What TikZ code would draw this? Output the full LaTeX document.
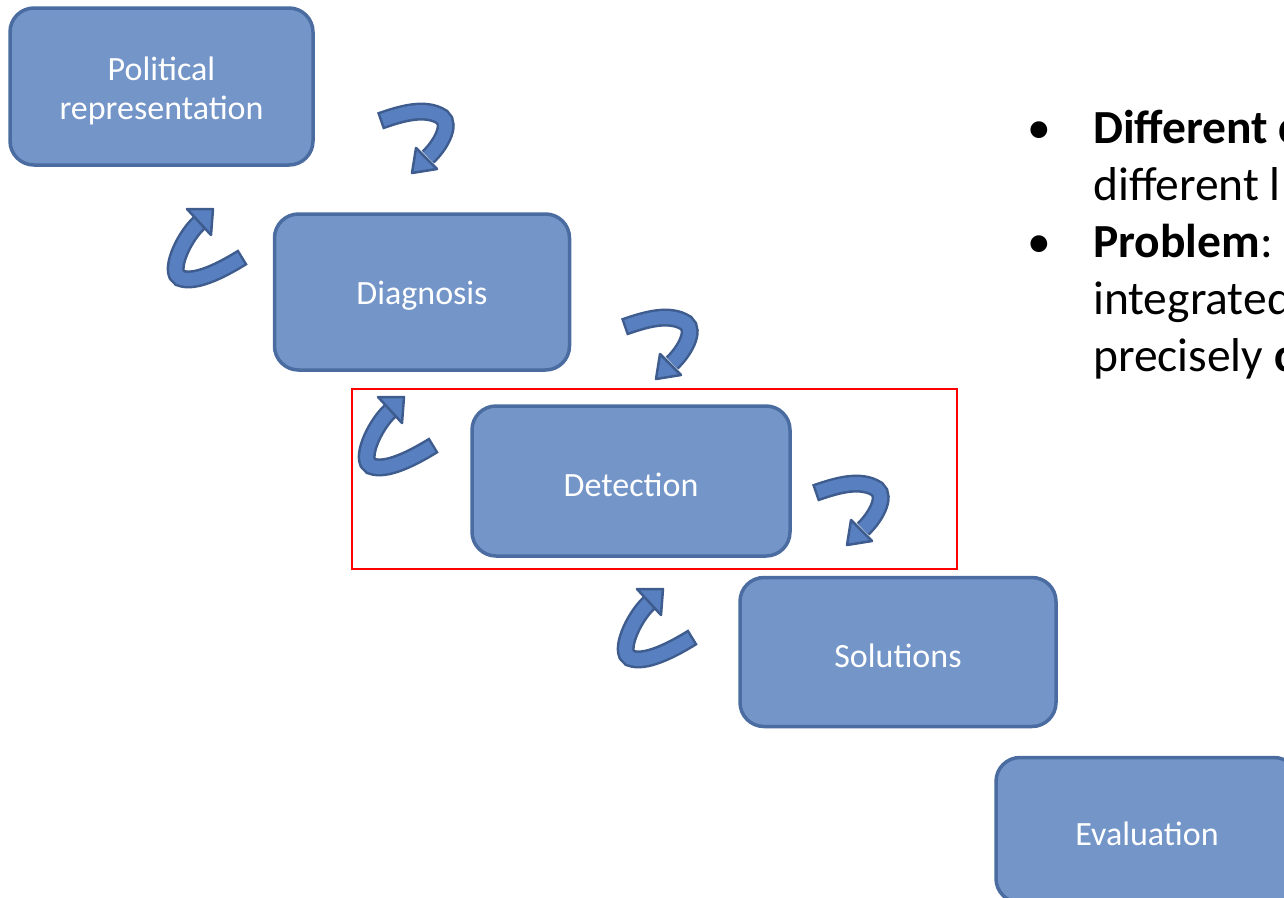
\documentclass[tikz,border=0pt]{standalone}
\usepackage{fontspec}
\setmainfont{Carlito}
\usetikzlibrary{positioning}
\definecolor{boxfill}{RGB}{115,149,200}
\definecolor{boxline}{RGB}{74,108,160}
\definecolor{arrfill}{RGB}{88,128,192}
\definecolor{arrline}{RGB}{62,92,142}
\begin{document}
\begin{tikzpicture}[x=1pt,y=-1pt,
  stage/.style={draw=boxline, fill=boxfill, line width=3.5pt, rounded corners=24pt, inner sep=0pt},
  lbl/.style={text=white, align=center, font=\fontsize{34}{39}\selectfont, inner sep=0pt, yshift=-4pt},
  shaftout/.style={line width=18pt, color=arrline},
  shaftin/.style={line width=13pt, color=arrfill, shorten <=2.5pt},
  arrhead/.style={fill=arrfill, draw=arrline, line width=2.5pt, line join=round},
  bullettext/.style={anchor=base west, inner sep=0pt, font=\fontsize{47.5}{57}\selectfont},
  curlA/.pic={
    \draw[shaftout] (20,31) .. controls (40,24) and (65,16) .. (82,27) .. controls (92,35) and (80,56) .. (68,67);
    \draw[shaftin] (20,31) .. controls (40,24) and (65,16) .. (82,27) .. controls (92,35) and (80,56) .. (68,67);
    \draw[arrhead] (52,83) -- (56,58) -- (77,79) -- cycle;
  },
  curlB/.pic={
    \draw[shaftout] (93,57) .. controls (72,70) and (45,84) .. (30,78) .. controls (18,72) and (33,38) .. (49,23);
    \draw[shaftin] (93,57) .. controls (72,70) and (45,84) .. (30,78) .. controls (18,72) and (33,38) .. (49,23);
    \draw[arrhead] (63,9) -- (37,9) -- (61,35) -- cycle;
  }
]
\useasboundingbox (0,0) rectangle (1284,897);
\clip (0,0) rectangle (1284,897);

\node[stage, minimum width=303pt, minimum height=157pt, label={[lbl]center:Political\\representation}] (pol) at (161.5,86.5) {};
\node[stage, minimum width=295pt, minimum height=156pt, label={[lbl]center:Diagnosis}] (dia) at (422,292) {};
\node[stage, minimum width=318pt, minimum height=150pt, label={[lbl]center:Detection}] (det) at (631,481) {};
\node[stage, minimum width=316pt, minimum height=149pt, label={[lbl]center:Solutions}] (sol) at (898,652) {};
\node[stage, minimum width=302pt, minimum height=145pt, label={[lbl]center:Evaluation}] (eva) at (1147,830) {};

\pic at (360,90) {curlA};
\pic at (604,296) {curlA};
\pic at (795,462) {curlA};
\pic at (150,200) {curlB};
\pic at (341,388) {curlB};
\pic at (600,580) {curlB};

\node[draw=red, line width=1.5pt, minimum width=605pt, minimum height=180pt, inner sep=0pt] (focus) at (654.5,479) {};

\node[bullettext] (b1) at (1027,143) {•};
\node[bullettext] (t1) at (1093,143) {\textbf{Different} \textbf{c}};
\node[bullettext] (t2) at (1093,200) {different l};
\node[bullettext] (b2) at (1027,257) {•};
\node[bullettext] (t3) at (1093,257) {\textbf{Problem}:};
\node[bullettext] (t4) at (1093,314) {integrated};
\node[bullettext] (t5) at (1093,371) {precisely \textbf{c}};
\end{tikzpicture}
\end{document}
